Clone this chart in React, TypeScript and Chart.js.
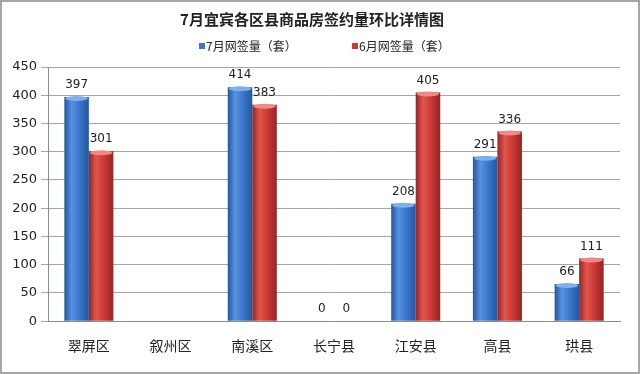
import React, { useEffect, useRef } from "react";
import { Chart, registerables } from "chart.js";

Chart.register(...registerables);

const categories = ["翠屏区", "叙州区", "南溪区", "长宁县", "江安县", "高县", "珙县"];
const julyValues: (number | null)[] = [397, null, 414, 0, 208, 291, 66];
const juneValues: (number | null)[] = [301, null, 383, 0, 405, 336, 111];
const seriesNames = ["7月网签量（套）", "6月网签量（套）"];
const titleText = "7月宜宾各区县商品房签约量环比详情图";

const palettes = [
  { dark: "#24569e", mid: "#3b78cc", light: "#5892e0", cap: "#7fb0ee", legend: "#3f78c8" },
  { dark: "#922523", mid: "#cf3a35", light: "#e0564f", cap: "#ee8a82", legend: "#c83a35" },
];

const cylinderPlugin = {
  id: "cylinder",
  beforeDatasetsDraw(chart: any) {
    const ctx = chart.ctx;
    chart.data.datasets.forEach((ds: any, di: number) => {
      const meta = chart.getDatasetMeta(di);
      const p = palettes[di];
      meta.data.forEach((el: any) => {
        const w = el.width;
        if (!w || !isFinite(el.x)) return;
        const l = el.x - w / 2;
        const g = ctx.createLinearGradient(l, 0, l + w, 0);
        g.addColorStop(0, p.dark);
        g.addColorStop(0.3, p.light);
        g.addColorStop(0.6, p.mid);
        g.addColorStop(1, p.dark);
        el.options.backgroundColor = g;
      });
    });
  },
  afterDatasetsDraw(chart: any) {
    const ctx = chart.ctx;
    chart.data.datasets.forEach((ds: any, di: number) => {
      const meta = chart.getDatasetMeta(di);
      const p = palettes[di];
      meta.data.forEach((el: any, i: number) => {
        const v = ds.data[i];
        if (v === null || v === undefined || v === 0) return;
        const w = el.width;
        ctx.save();
        ctx.fillStyle = p.cap;
        ctx.beginPath();
        ctx.ellipse(el.x, el.y + 1.5, w / 2 - 1, 2.5, 0, 0, Math.PI * 2);
        ctx.fill();
        ctx.restore();
      });
    });
  },
};

const labelPlugin = {
  id: "valueLabels",
  afterDatasetsDraw(chart: any) {
    const ctx = chart.ctx;
    ctx.save();
    ctx.font = "12px 'DejaVu Sans', Verdana, sans-serif";
    ctx.fillStyle = "#222";
    ctx.textAlign = "center";
    ctx.textBaseline = "bottom";
    chart.data.datasets.forEach((ds: any, di: number) => {
      const meta = chart.getDatasetMeta(di);
      meta.data.forEach((el: any, i: number) => {
        const v = ds.data[i];
        if (v === null || v === undefined) return;
        ctx.fillText(String(v), el.x, el.y - 6);
      });
    });
    ctx.restore();
  },
};

const legendPlugin = {
  id: "customLegend",
  afterDraw(chart: any) {
    const ctx = chart.ctx;
    const starts = [199, 352];
    ctx.save();
    ctx.font = "12px 'Noto Sans CJK SC', sans-serif";
    ctx.textAlign = "left";
    ctx.textBaseline = "middle";
    seriesNames.forEach((n, i) => {
      const x = starts[i];
      ctx.fillStyle = palettes[i].legend;
      ctx.fillRect(x, 43, 6, 6);
      ctx.fillStyle = "#222";
      ctx.fillText(n, x + 7, 46);
    });
    ctx.restore();
  },
};

const framePlugin = {
  id: "frame",
  afterDraw(chart: any) {
    const ctx = chart.ctx;
    ctx.save();
    ctx.strokeStyle = "#a6a6a6";
    ctx.lineWidth = 2;
    ctx.strokeRect(1, 1, chart.width - 2, chart.height - 2);
    ctx.restore();
  },
};

export default function App() {
  const ref = useRef<HTMLCanvasElement>(null);
  useEffect(() => {
    document.body.style.margin = "0";
    const canvas = ref.current!;
    const chart = new Chart(canvas, {
      type: "bar",
      data: {
        labels: categories,
        datasets: [
          {
            label: seriesNames[0],
            data: julyValues,
            backgroundColor: () => palettes[0].mid,
            borderWidth: 0,
          },
          {
            label: seriesNames[1],
            data: juneValues,
            backgroundColor: () => palettes[1].mid,
            borderWidth: 0,
          },
        ],
      },
      options: {
        animation: false,
        responsive: false,
        maintainAspectRatio: false,
        layout: { padding: { left: 4, right: 20, top: 0, bottom: 4 } },
        datasets: { bar: { categoryPercentage: 0.6, barPercentage: 1 } },
        plugins: {
          title: {
            display: true,
            text: titleText,
            color: "#222",
            font: { size: 15, weight: "bold", family: "'Noto Sans CJK SC', sans-serif" },
            padding: { top: 10, bottom: 39 },
          },
          legend: { display: false },
          tooltip: { enabled: false },
        },
        scales: {
          x: {
            grid: { display: false, drawTicks: false },
            border: { color: "#8c8c8c" },
            ticks: {
              color: "#222",
              padding: 16,
              font: { size: 14, family: "'Noto Sans CJK SC', sans-serif" },
            },
          },
          y: {
            min: 0,
            max: 450,
            afterFit: (s: any) => {
              s.width = 44;
            },
            grid: { color: "#a6a6a6", tickLength: 7 },
            border: { color: "#8c8c8c" },
            ticks: {
              stepSize: 50,
              color: "#222",
              padding: 4,
              font: { size: 13, family: "'DejaVu Sans', Verdana, sans-serif" },
            },
          },
        },
      },
      plugins: [cylinderPlugin, labelPlugin, legendPlugin, framePlugin],
    });
    return () => chart.destroy();
  }, []);
  return (
    <div style={{ width: 640, height: 374 }}>
      <canvas ref={ref} width={640} height={374} style={{ display: "block" }} />
    </div>
  );
}
